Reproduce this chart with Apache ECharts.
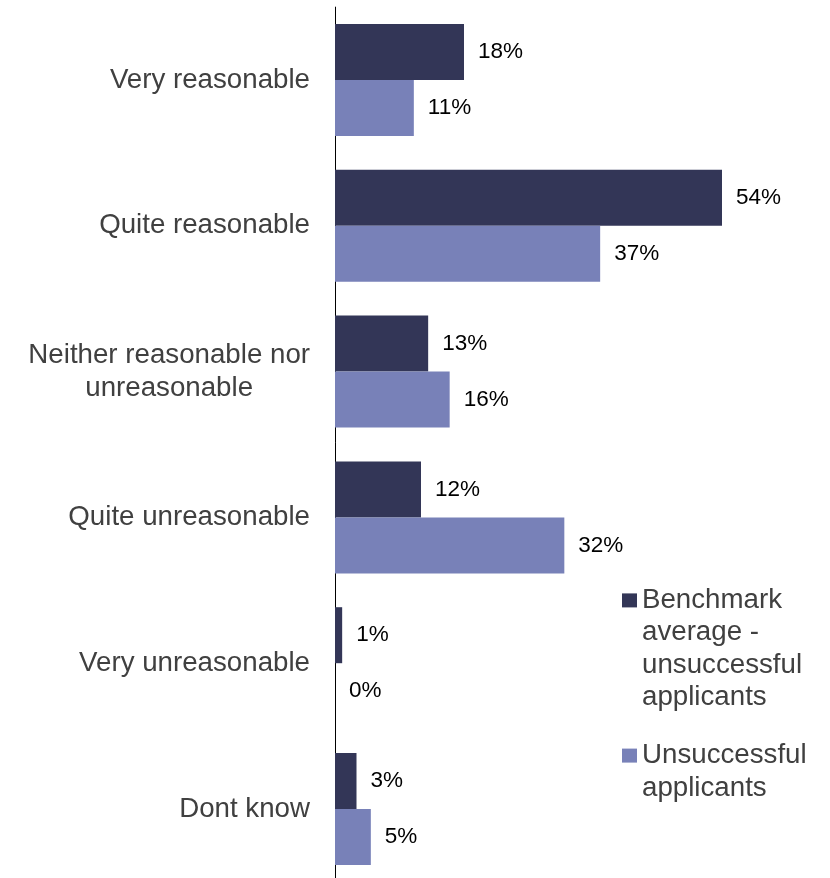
<!DOCTYPE html>
<html>
<head>
<meta charset="utf-8">
<script src="https://cdn.jsdelivr.net/npm/echarts@6/dist/echarts.min.js"></script>
<style>
  html, body { margin: 0; padding: 0; background: #fff; }
  #chart { width: 830px; height: 878px; }
</style>
</head>
<body>
<div id="chart"></div>
<script>
const categories = [
  'Very reasonable',
  'Quite reasonable',
  'Neither reasonable nor\nunreasonable',
  'Quite unreasonable',
  'Very unreasonable',
  'Dont know'
];
const seriesNames = ['Benchmark average - unsuccessful applicants', 'Unsuccessful applicants'];
const legendLabels = ['Benchmark\naverage -\nunsuccessful\napplicants', 'Unsuccessful\napplicants'];
const benchmarkValues = [18, 54, 13, 12, 1, 3];
const unsuccessfulValues = [11, 37, 16, 32, 0, 5];

const colors = ['#333657', '#7881B8'];
const FONT = 'Liberation Sans, Arial, sans-serif';

const chart = echarts.init(document.getElementById('chart'), null, { renderer: 'canvas' });

const labelFmt = function (p) { return p.value + '%'; };
// Pad with empty lines above so the first line sits level with the legend square
const legendFmt = function (name) {
  const txt = legendLabels[seriesNames.indexOf(name)];
  const n = txt.split('\n').length;
  return '\n'.repeat(n - 1) + txt;
};
const legendText = { fontSize: 27.7, lineHeight: 32.4, color: '#404040', fontFamily: FONT };

const option = {
  animation: false,
  backgroundColor: '#ffffff',
  textStyle: { fontFamily: FONT },
  grid: { left: 335, top: 7.1, width: 430, height: 874.8, containLabel: false, outerBoundsMode: 'none' },
  xAxis: {
    type: 'value', min: 0, max: 60,
    show: false,
    splitLine: { show: false }
  },
  yAxis: {
    type: 'category',
    data: categories,
    inverse: true,
    axisLine: { show: true, lineStyle: { color: '#000000', width: 1 } },
    axisTick: { show: false },
    axisLabel: {
      margin: 25,
      fontSize: 27.7,
      lineHeight: 33,
      color: '#404040',
      formatter: function (v) {
        return v.split('\n').map(function (s) { return '{c|' + s + '}'; }).join('\n');
      },
      rich: {
        c: { fontSize: 27.7, lineHeight: 33, color: '#404040', align: 'center', fontFamily: FONT }
      }
    }
  },
  legend: [
    {
      orient: 'vertical', left: 622, top: 487, padding: 0,
      icon: 'rect', itemWidth: 15, itemHeight: 14,
      formatter: legendFmt, textStyle: legendText,
      data: [seriesNames[0]],
      selectedMode: false
    },
    {
      orient: 'vertical', left: 622, top: 707, padding: 0,
      icon: 'rect', itemWidth: 15, itemHeight: 14,
      formatter: legendFmt, textStyle: legendText,
      data: [seriesNames[1]],
      selectedMode: false
    }
  ],
  series: [
    {
      name: seriesNames[0], type: 'bar', data: benchmarkValues,
      barWidth: 56, barGap: '0%',
      itemStyle: { color: colors[0] },
      label: { show: true, position: 'right', distance: 14, formatter: labelFmt, fontSize: 22.5, color: '#000000' }
    },
    {
      name: seriesNames[1], type: 'bar', data: unsuccessfulValues,
      barWidth: 56, barGap: '0%',
      itemStyle: { color: colors[1] },
      label: { show: true, position: 'right', distance: 14, formatter: labelFmt, fontSize: 22.5, color: '#000000' }
    }
  ]
};
chart.setOption(option);
</script>
</body>
</html>
